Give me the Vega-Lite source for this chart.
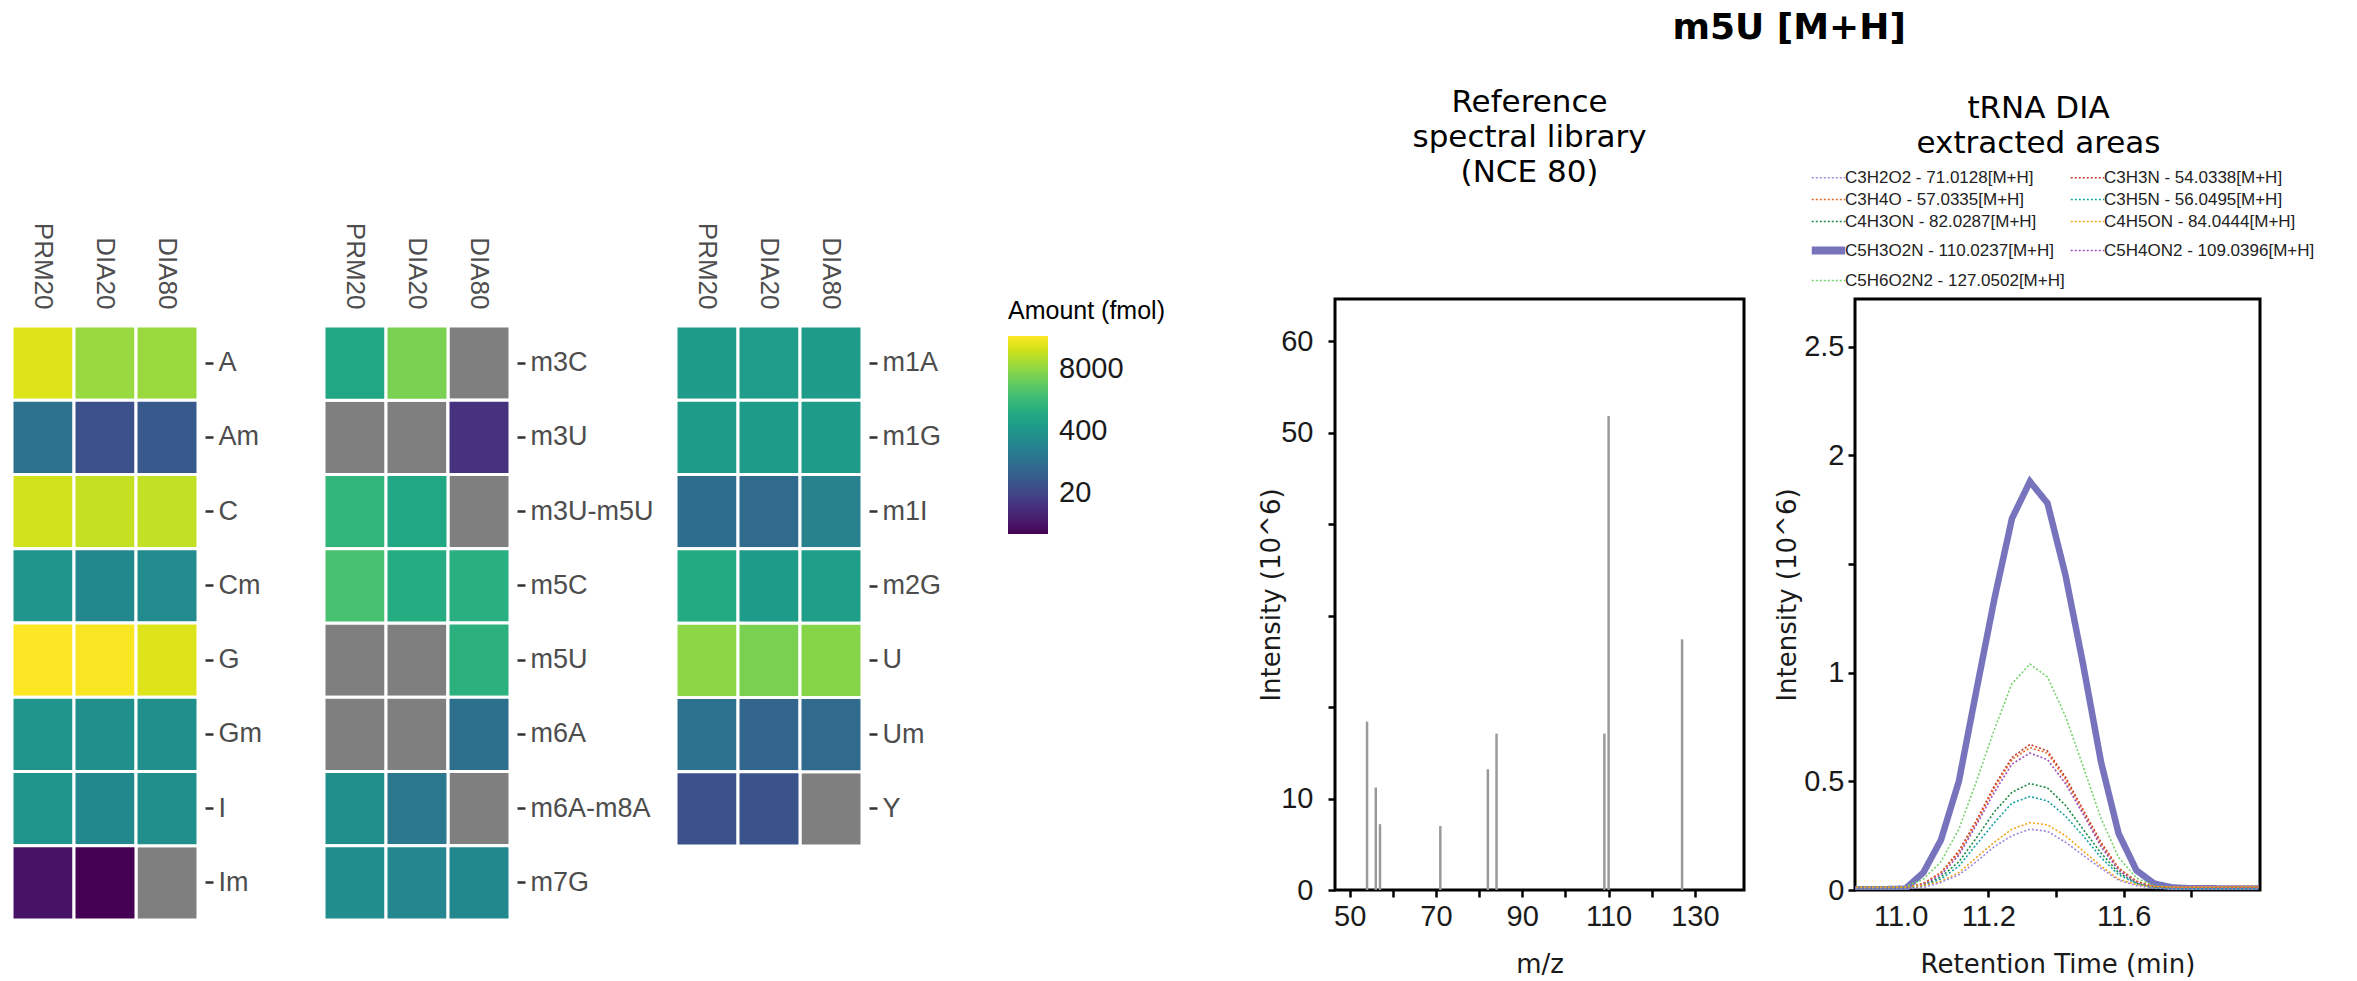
{
  "background": "white",
  "padding": {"left": 10, "top": 9, "right": 4, "bottom": 0},
  "config": {
    "view": {"stroke": null},
    "axis": {"labelFont": "Liberation Sans", "titleFont": "DejaVu Sans", "grid": false}
  },
  "title": {"text": "m5U [M+H]", "font": "DejaVu Sans", "fontSize": 36, "fontWeight": "bold", "color": "black", "anchor": "start", "dx": 1662, "offset": 39},
  "datasets": {
    "heat": [
      {"panel": 1, "mod": "A", "method": "PRM20", "amt": 24650},
      {"panel": 1, "mod": "A", "method": "DIA20", "amt": 9000},
      {"panel": 1, "mod": "A", "method": "DIA80", "amt": 9400},
      {"panel": 1, "mod": "Am", "method": "PRM20", "amt": 99},
      {"panel": 1, "mod": "Am", "method": "DIA20", "amt": 28},
      {"panel": 1, "mod": "Am", "method": "DIA80", "amt": 38},
      {"panel": 1, "mod": "C", "method": "PRM20", "amt": 20300},
      {"panel": 1, "mod": "C", "method": "DIA20", "amt": 16700},
      {"panel": 1, "mod": "C", "method": "DIA80", "amt": 16500},
      {"panel": 1, "mod": "Cm", "method": "PRM20", "amt": 384},
      {"panel": 1, "mod": "Cm", "method": "DIA20", "amt": 237},
      {"panel": 1, "mod": "Cm", "method": "DIA80", "amt": 261},
      {"panel": 1, "mod": "G", "method": "PRM20", "amt": 39400},
      {"panel": 1, "mod": "G", "method": "DIA20", "amt": 36300},
      {"panel": 1, "mod": "G", "method": "DIA80", "amt": 24650},
      {"panel": 1, "mod": "Gm", "method": "PRM20", "amt": 384},
      {"panel": 1, "mod": "Gm", "method": "DIA20", "amt": 316},
      {"panel": 1, "mod": "Gm", "method": "DIA80", "amt": 316},
      {"panel": 1, "mod": "I", "method": "PRM20", "amt": 384},
      {"panel": 1, "mod": "I", "method": "DIA20", "amt": 237},
      {"panel": 1, "mod": "I", "method": "DIA80", "amt": 316},
      {"panel": 1, "mod": "Im", "method": "PRM20", "amt": 4.3},
      {"panel": 1, "mod": "Im", "method": "DIA20", "amt": 2.7},
      {"panel": 1, "mod": "Im", "method": "DIA80", "amt": null},
      {"panel": 2, "mod": "m3C", "method": "PRM20", "amt": 832},
      {"panel": 2, "mod": "m3C", "method": "DIA20", "amt": 5770},
      {"panel": 2, "mod": "m3C", "method": "DIA80", "amt": null},
      {"panel": 2, "mod": "m3U", "method": "PRM20", "amt": null},
      {"panel": 2, "mod": "m3U", "method": "DIA20", "amt": null},
      {"panel": 2, "mod": "m3U", "method": "DIA80", "amt": 10.7},
      {"panel": 2, "mod": "m3U-m5U", "method": "PRM20", "amt": 1489},
      {"panel": 2, "mod": "m3U-m5U", "method": "DIA20", "amt": 832},
      {"panel": 2, "mod": "m3U-m5U", "method": "DIA80", "amt": null},
      {"panel": 2, "mod": "m5C", "method": "PRM20", "amt": 2415},
      {"panel": 2, "mod": "m5C", "method": "DIA20", "amt": 1009},
      {"panel": 2, "mod": "m5C", "method": "DIA80", "amt": 1113},
      {"panel": 2, "mod": "m5U", "method": "PRM20", "amt": null},
      {"panel": 2, "mod": "m5U", "method": "DIA20", "amt": null},
      {"panel": 2, "mod": "m5U", "method": "DIA80", "amt": 1227},
      {"panel": 2, "mod": "m6A", "method": "PRM20", "amt": null},
      {"panel": 2, "mod": "m6A", "method": "DIA20", "amt": null},
      {"panel": 2, "mod": "m6A", "method": "DIA80", "amt": 90},
      {"panel": 2, "mod": "m6A-m8A", "method": "PRM20", "amt": 316},
      {"panel": 2, "mod": "m6A-m8A", "method": "DIA20", "amt": 120},
      {"panel": 2, "mod": "m6A-m8A", "method": "DIA80", "amt": null},
      {"panel": 2, "mod": "m7G", "method": "PRM20", "amt": 287},
      {"panel": 2, "mod": "m7G", "method": "DIA20", "amt": 215},
      {"panel": 2, "mod": "m7G", "method": "DIA80", "amt": 237},
      {"panel": 3, "mod": "m1A", "method": "PRM20", "amt": 500},
      {"panel": 3, "mod": "m1A", "method": "DIA20", "amt": 520},
      {"panel": 3, "mod": "m1A", "method": "DIA80", "amt": 510},
      {"panel": 3, "mod": "m1G", "method": "PRM20", "amt": 510},
      {"panel": 3, "mod": "m1G", "method": "DIA20", "amt": 515},
      {"panel": 3, "mod": "m1G", "method": "DIA80", "amt": 505},
      {"panel": 3, "mod": "m1I", "method": "PRM20", "amt": 81},
      {"panel": 3, "mod": "m1I", "method": "DIA20", "amt": 74},
      {"panel": 3, "mod": "m1I", "method": "DIA80", "amt": 177},
      {"panel": 3, "mod": "m2G", "method": "PRM20", "amt": 916},
      {"panel": 3, "mod": "m2G", "method": "DIA20", "amt": 513},
      {"panel": 3, "mod": "m2G", "method": "DIA80", "amt": 565},
      {"panel": 3, "mod": "U", "method": "PRM20", "amt": 7710},
      {"panel": 3, "mod": "U", "method": "DIA20", "amt": 5770},
      {"panel": 3, "mod": "U", "method": "DIA80", "amt": 7000},
      {"panel": 3, "mod": "Um", "method": "PRM20", "amt": 99},
      {"panel": 3, "mod": "Um", "method": "DIA20", "amt": 61},
      {"panel": 3, "mod": "Um", "method": "DIA80", "amt": 74},
      {"panel": 3, "mod": "Y", "method": "PRM20", "amt": 28},
      {"panel": 3, "mod": "Y", "method": "DIA20", "amt": 31},
      {"panel": 3, "mod": "Y", "method": "DIA80", "amt": null}
    ],
    "spec": [
      {"mz": 54.03, "intensity": 18.4},
      {"mz": 56.05, "intensity": 11.2},
      {"mz": 57.03, "intensity": 7.2},
      {"mz": 71.01, "intensity": 7.0},
      {"mz": 82.03, "intensity": 13.2},
      {"mz": 84.04, "intensity": 17.1},
      {"mz": 109.04, "intensity": 17.1},
      {"mz": 110.02, "intensity": 51.8},
      {"mz": 127.05, "intensity": 27.4}
    ],
    "dia": [
      {"ion": "C5H3O2N - 110.0237[M+H]", "t": 10.798, "v": 0.003},
      {"ion": "C5H3O2N - 110.0237[M+H]", "t": 10.850, "v": 0.003},
      {"ion": "C5H3O2N - 110.0237[M+H]", "t": 10.903, "v": 0.004},
      {"ion": "C5H3O2N - 110.0237[M+H]", "t": 10.955, "v": 0.006},
      {"ion": "C5H3O2N - 110.0237[M+H]", "t": 11.008, "v": 0.08},
      {"ion": "C5H3O2N - 110.0237[M+H]", "t": 11.060, "v": 0.23},
      {"ion": "C5H3O2N - 110.0237[M+H]", "t": 11.113, "v": 0.50},
      {"ion": "C5H3O2N - 110.0237[M+H]", "t": 11.165, "v": 0.92},
      {"ion": "C5H3O2N - 110.0237[M+H]", "t": 11.218, "v": 1.34},
      {"ion": "C5H3O2N - 110.0237[M+H]", "t": 11.270, "v": 1.71},
      {"ion": "C5H3O2N - 110.0237[M+H]", "t": 11.323, "v": 1.88},
      {"ion": "C5H3O2N - 110.0237[M+H]", "t": 11.375, "v": 1.78},
      {"ion": "C5H3O2N - 110.0237[M+H]", "t": 11.428, "v": 1.45},
      {"ion": "C5H3O2N - 110.0237[M+H]", "t": 11.480, "v": 1.04},
      {"ion": "C5H3O2N - 110.0237[M+H]", "t": 11.533, "v": 0.59},
      {"ion": "C5H3O2N - 110.0237[M+H]", "t": 11.585, "v": 0.26},
      {"ion": "C5H3O2N - 110.0237[M+H]", "t": 11.638, "v": 0.09},
      {"ion": "C5H3O2N - 110.0237[M+H]", "t": 11.690, "v": 0.03},
      {"ion": "C5H3O2N - 110.0237[M+H]", "t": 11.743, "v": 0.012},
      {"ion": "C5H3O2N - 110.0237[M+H]", "t": 11.795, "v": 0.008},
      {"ion": "C5H3O2N - 110.0237[M+H]", "t": 11.848, "v": 0.008},
      {"ion": "C5H3O2N - 110.0237[M+H]", "t": 11.900, "v": 0.007},
      {"ion": "C5H3O2N - 110.0237[M+H]", "t": 11.953, "v": 0.007},
      {"ion": "C5H3O2N - 110.0237[M+H]", "t": 11.998, "v": 0.007},
      {"ion": "C5H6O2N2 - 127.0502[M+H]", "t": 10.798, "v": 0.012},
      {"ion": "C5H6O2N2 - 127.0502[M+H]", "t": 10.850, "v": 0.012},
      {"ion": "C5H6O2N2 - 127.0502[M+H]", "t": 10.903, "v": 0.012},
      {"ion": "C5H6O2N2 - 127.0502[M+H]", "t": 10.955, "v": 0.015},
      {"ion": "C5H6O2N2 - 127.0502[M+H]", "t": 11.008, "v": 0.05},
      {"ion": "C5H6O2N2 - 127.0502[M+H]", "t": 11.060, "v": 0.13},
      {"ion": "C5H6O2N2 - 127.0502[M+H]", "t": 11.113, "v": 0.28},
      {"ion": "C5H6O2N2 - 127.0502[M+H]", "t": 11.165, "v": 0.50},
      {"ion": "C5H6O2N2 - 127.0502[M+H]", "t": 11.218, "v": 0.74},
      {"ion": "C5H6O2N2 - 127.0502[M+H]", "t": 11.270, "v": 0.95},
      {"ion": "C5H6O2N2 - 127.0502[M+H]", "t": 11.323, "v": 1.04},
      {"ion": "C5H6O2N2 - 127.0502[M+H]", "t": 11.375, "v": 0.98},
      {"ion": "C5H6O2N2 - 127.0502[M+H]", "t": 11.428, "v": 0.80},
      {"ion": "C5H6O2N2 - 127.0502[M+H]", "t": 11.480, "v": 0.57},
      {"ion": "C5H6O2N2 - 127.0502[M+H]", "t": 11.533, "v": 0.33},
      {"ion": "C5H6O2N2 - 127.0502[M+H]", "t": 11.585, "v": 0.15},
      {"ion": "C5H6O2N2 - 127.0502[M+H]", "t": 11.638, "v": 0.055},
      {"ion": "C5H6O2N2 - 127.0502[M+H]", "t": 11.690, "v": 0.02},
      {"ion": "C5H6O2N2 - 127.0502[M+H]", "t": 11.743, "v": 0.012},
      {"ion": "C5H6O2N2 - 127.0502[M+H]", "t": 11.795, "v": 0.01},
      {"ion": "C5H6O2N2 - 127.0502[M+H]", "t": 11.848, "v": 0.01},
      {"ion": "C5H6O2N2 - 127.0502[M+H]", "t": 11.900, "v": 0.01},
      {"ion": "C5H6O2N2 - 127.0502[M+H]", "t": 11.953, "v": 0.01},
      {"ion": "C5H6O2N2 - 127.0502[M+H]", "t": 11.998, "v": 0.01},
      {"ion": "C3H3N - 54.0338[M+H]", "t": 10.798, "v": 0.006},
      {"ion": "C3H3N - 54.0338[M+H]", "t": 10.850, "v": 0.006},
      {"ion": "C3H3N - 54.0338[M+H]", "t": 10.903, "v": 0.006},
      {"ion": "C3H3N - 54.0338[M+H]", "t": 10.955, "v": 0.008},
      {"ion": "C3H3N - 54.0338[M+H]", "t": 11.008, "v": 0.03},
      {"ion": "C3H3N - 54.0338[M+H]", "t": 11.060, "v": 0.08},
      {"ion": "C3H3N - 54.0338[M+H]", "t": 11.113, "v": 0.18},
      {"ion": "C3H3N - 54.0338[M+H]", "t": 11.165, "v": 0.32},
      {"ion": "C3H3N - 54.0338[M+H]", "t": 11.218, "v": 0.48},
      {"ion": "C3H3N - 54.0338[M+H]", "t": 11.270, "v": 0.61},
      {"ion": "C3H3N - 54.0338[M+H]", "t": 11.323, "v": 0.67},
      {"ion": "C3H3N - 54.0338[M+H]", "t": 11.375, "v": 0.64},
      {"ion": "C3H3N - 54.0338[M+H]", "t": 11.428, "v": 0.52},
      {"ion": "C3H3N - 54.0338[M+H]", "t": 11.480, "v": 0.37},
      {"ion": "C3H3N - 54.0338[M+H]", "t": 11.533, "v": 0.22},
      {"ion": "C3H3N - 54.0338[M+H]", "t": 11.585, "v": 0.10},
      {"ion": "C3H3N - 54.0338[M+H]", "t": 11.638, "v": 0.04},
      {"ion": "C3H3N - 54.0338[M+H]", "t": 11.690, "v": 0.015},
      {"ion": "C3H3N - 54.0338[M+H]", "t": 11.743, "v": 0.009},
      {"ion": "C3H3N - 54.0338[M+H]", "t": 11.795, "v": 0.008},
      {"ion": "C3H3N - 54.0338[M+H]", "t": 11.848, "v": 0.008},
      {"ion": "C3H3N - 54.0338[M+H]", "t": 11.900, "v": 0.008},
      {"ion": "C3H3N - 54.0338[M+H]", "t": 11.953, "v": 0.008},
      {"ion": "C3H3N - 54.0338[M+H]", "t": 11.998, "v": 0.008},
      {"ion": "C3H4O - 57.0335[M+H]", "t": 10.798, "v": 0.008},
      {"ion": "C3H4O - 57.0335[M+H]", "t": 10.850, "v": 0.008},
      {"ion": "C3H4O - 57.0335[M+H]", "t": 10.903, "v": 0.008},
      {"ion": "C3H4O - 57.0335[M+H]", "t": 10.955, "v": 0.01},
      {"ion": "C3H4O - 57.0335[M+H]", "t": 11.008, "v": 0.03},
      {"ion": "C3H4O - 57.0335[M+H]", "t": 11.060, "v": 0.08},
      {"ion": "C3H4O - 57.0335[M+H]", "t": 11.113, "v": 0.17},
      {"ion": "C3H4O - 57.0335[M+H]", "t": 11.165, "v": 0.31},
      {"ion": "C3H4O - 57.0335[M+H]", "t": 11.218, "v": 0.47},
      {"ion": "C3H4O - 57.0335[M+H]", "t": 11.270, "v": 0.60},
      {"ion": "C3H4O - 57.0335[M+H]", "t": 11.323, "v": 0.655},
      {"ion": "C3H4O - 57.0335[M+H]", "t": 11.375, "v": 0.63},
      {"ion": "C3H4O - 57.0335[M+H]", "t": 11.428, "v": 0.51},
      {"ion": "C3H4O - 57.0335[M+H]", "t": 11.480, "v": 0.36},
      {"ion": "C3H4O - 57.0335[M+H]", "t": 11.533, "v": 0.21},
      {"ion": "C3H4O - 57.0335[M+H]", "t": 11.585, "v": 0.10},
      {"ion": "C3H4O - 57.0335[M+H]", "t": 11.638, "v": 0.04},
      {"ion": "C3H4O - 57.0335[M+H]", "t": 11.690, "v": 0.016},
      {"ion": "C3H4O - 57.0335[M+H]", "t": 11.743, "v": 0.012},
      {"ion": "C3H4O - 57.0335[M+H]", "t": 11.795, "v": 0.012},
      {"ion": "C3H4O - 57.0335[M+H]", "t": 11.848, "v": 0.012},
      {"ion": "C3H4O - 57.0335[M+H]", "t": 11.900, "v": 0.012},
      {"ion": "C3H4O - 57.0335[M+H]", "t": 11.953, "v": 0.012},
      {"ion": "C3H4O - 57.0335[M+H]", "t": 11.998, "v": 0.012},
      {"ion": "C5H4ON2 - 109.0396[M+H]", "t": 10.798, "v": 0.004},
      {"ion": "C5H4ON2 - 109.0396[M+H]", "t": 10.850, "v": 0.004},
      {"ion": "C5H4ON2 - 109.0396[M+H]", "t": 10.903, "v": 0.004},
      {"ion": "C5H4ON2 - 109.0396[M+H]", "t": 10.955, "v": 0.006},
      {"ion": "C5H4ON2 - 109.0396[M+H]", "t": 11.008, "v": 0.025},
      {"ion": "C5H4ON2 - 109.0396[M+H]", "t": 11.060, "v": 0.07},
      {"ion": "C5H4ON2 - 109.0396[M+H]", "t": 11.113, "v": 0.16},
      {"ion": "C5H4ON2 - 109.0396[M+H]", "t": 11.165, "v": 0.30},
      {"ion": "C5H4ON2 - 109.0396[M+H]", "t": 11.218, "v": 0.45},
      {"ion": "C5H4ON2 - 109.0396[M+H]", "t": 11.270, "v": 0.58},
      {"ion": "C5H4ON2 - 109.0396[M+H]", "t": 11.323, "v": 0.63},
      {"ion": "C5H4ON2 - 109.0396[M+H]", "t": 11.375, "v": 0.60},
      {"ion": "C5H4ON2 - 109.0396[M+H]", "t": 11.428, "v": 0.49},
      {"ion": "C5H4ON2 - 109.0396[M+H]", "t": 11.480, "v": 0.35},
      {"ion": "C5H4ON2 - 109.0396[M+H]", "t": 11.533, "v": 0.20},
      {"ion": "C5H4ON2 - 109.0396[M+H]", "t": 11.585, "v": 0.09},
      {"ion": "C5H4ON2 - 109.0396[M+H]", "t": 11.638, "v": 0.035},
      {"ion": "C5H4ON2 - 109.0396[M+H]", "t": 11.690, "v": 0.012},
      {"ion": "C5H4ON2 - 109.0396[M+H]", "t": 11.743, "v": 0.006},
      {"ion": "C5H4ON2 - 109.0396[M+H]", "t": 11.795, "v": 0.005},
      {"ion": "C5H4ON2 - 109.0396[M+H]", "t": 11.848, "v": 0.005},
      {"ion": "C5H4ON2 - 109.0396[M+H]", "t": 11.900, "v": 0.005},
      {"ion": "C5H4ON2 - 109.0396[M+H]", "t": 11.953, "v": 0.005},
      {"ion": "C5H4ON2 - 109.0396[M+H]", "t": 11.998, "v": 0.005},
      {"ion": "C4H3ON - 82.0287[M+H]", "t": 10.798, "v": 0.005},
      {"ion": "C4H3ON - 82.0287[M+H]", "t": 10.850, "v": 0.005},
      {"ion": "C4H3ON - 82.0287[M+H]", "t": 10.903, "v": 0.005},
      {"ion": "C4H3ON - 82.0287[M+H]", "t": 10.955, "v": 0.007},
      {"ion": "C4H3ON - 82.0287[M+H]", "t": 11.008, "v": 0.02},
      {"ion": "C4H3ON - 82.0287[M+H]", "t": 11.060, "v": 0.06},
      {"ion": "C4H3ON - 82.0287[M+H]", "t": 11.113, "v": 0.13},
      {"ion": "C4H3ON - 82.0287[M+H]", "t": 11.165, "v": 0.24},
      {"ion": "C4H3ON - 82.0287[M+H]", "t": 11.218, "v": 0.36},
      {"ion": "C4H3ON - 82.0287[M+H]", "t": 11.270, "v": 0.45},
      {"ion": "C4H3ON - 82.0287[M+H]", "t": 11.323, "v": 0.49},
      {"ion": "C4H3ON - 82.0287[M+H]", "t": 11.375, "v": 0.47},
      {"ion": "C4H3ON - 82.0287[M+H]", "t": 11.428, "v": 0.39},
      {"ion": "C4H3ON - 82.0287[M+H]", "t": 11.480, "v": 0.28},
      {"ion": "C4H3ON - 82.0287[M+H]", "t": 11.533, "v": 0.17},
      {"ion": "C4H3ON - 82.0287[M+H]", "t": 11.585, "v": 0.08},
      {"ion": "C4H3ON - 82.0287[M+H]", "t": 11.638, "v": 0.03},
      {"ion": "C4H3ON - 82.0287[M+H]", "t": 11.690, "v": 0.01},
      {"ion": "C4H3ON - 82.0287[M+H]", "t": 11.743, "v": 0.006},
      {"ion": "C4H3ON - 82.0287[M+H]", "t": 11.795, "v": 0.005},
      {"ion": "C4H3ON - 82.0287[M+H]", "t": 11.848, "v": 0.005},
      {"ion": "C4H3ON - 82.0287[M+H]", "t": 11.900, "v": 0.005},
      {"ion": "C4H3ON - 82.0287[M+H]", "t": 11.953, "v": 0.005},
      {"ion": "C4H3ON - 82.0287[M+H]", "t": 11.998, "v": 0.005},
      {"ion": "C3H5N - 56.0495[M+H]", "t": 10.798, "v": 0.005},
      {"ion": "C3H5N - 56.0495[M+H]", "t": 10.850, "v": 0.005},
      {"ion": "C3H5N - 56.0495[M+H]", "t": 10.903, "v": 0.005},
      {"ion": "C3H5N - 56.0495[M+H]", "t": 10.955, "v": 0.006},
      {"ion": "C3H5N - 56.0495[M+H]", "t": 11.008, "v": 0.02},
      {"ion": "C3H5N - 56.0495[M+H]", "t": 11.060, "v": 0.05},
      {"ion": "C3H5N - 56.0495[M+H]", "t": 11.113, "v": 0.11},
      {"ion": "C3H5N - 56.0495[M+H]", "t": 11.165, "v": 0.21},
      {"ion": "C3H5N - 56.0495[M+H]", "t": 11.218, "v": 0.31},
      {"ion": "C3H5N - 56.0495[M+H]", "t": 11.270, "v": 0.40},
      {"ion": "C3H5N - 56.0495[M+H]", "t": 11.323, "v": 0.43},
      {"ion": "C3H5N - 56.0495[M+H]", "t": 11.375, "v": 0.41},
      {"ion": "C3H5N - 56.0495[M+H]", "t": 11.428, "v": 0.34},
      {"ion": "C3H5N - 56.0495[M+H]", "t": 11.480, "v": 0.25},
      {"ion": "C3H5N - 56.0495[M+H]", "t": 11.533, "v": 0.15},
      {"ion": "C3H5N - 56.0495[M+H]", "t": 11.585, "v": 0.07},
      {"ion": "C3H5N - 56.0495[M+H]", "t": 11.638, "v": 0.03},
      {"ion": "C3H5N - 56.0495[M+H]", "t": 11.690, "v": 0.01},
      {"ion": "C3H5N - 56.0495[M+H]", "t": 11.743, "v": 0.006},
      {"ion": "C3H5N - 56.0495[M+H]", "t": 11.795, "v": 0.005},
      {"ion": "C3H5N - 56.0495[M+H]", "t": 11.848, "v": 0.005},
      {"ion": "C3H5N - 56.0495[M+H]", "t": 11.900, "v": 0.005},
      {"ion": "C3H5N - 56.0495[M+H]", "t": 11.953, "v": 0.005},
      {"ion": "C3H5N - 56.0495[M+H]", "t": 11.998, "v": 0.005},
      {"ion": "C4H5ON - 84.0444[M+H]", "t": 10.798, "v": 0.012},
      {"ion": "C4H5ON - 84.0444[M+H]", "t": 10.850, "v": 0.012},
      {"ion": "C4H5ON - 84.0444[M+H]", "t": 10.903, "v": 0.012},
      {"ion": "C4H5ON - 84.0444[M+H]", "t": 10.955, "v": 0.013},
      {"ion": "C4H5ON - 84.0444[M+H]", "t": 11.008, "v": 0.02},
      {"ion": "C4H5ON - 84.0444[M+H]", "t": 11.060, "v": 0.04},
      {"ion": "C4H5ON - 84.0444[M+H]", "t": 11.113, "v": 0.08},
      {"ion": "C4H5ON - 84.0444[M+H]", "t": 11.165, "v": 0.15},
      {"ion": "C4H5ON - 84.0444[M+H]", "t": 11.218, "v": 0.22},
      {"ion": "C4H5ON - 84.0444[M+H]", "t": 11.270, "v": 0.28},
      {"ion": "C4H5ON - 84.0444[M+H]", "t": 11.323, "v": 0.31},
      {"ion": "C4H5ON - 84.0444[M+H]", "t": 11.375, "v": 0.30},
      {"ion": "C4H5ON - 84.0444[M+H]", "t": 11.428, "v": 0.25},
      {"ion": "C4H5ON - 84.0444[M+H]", "t": 11.480, "v": 0.18},
      {"ion": "C4H5ON - 84.0444[M+H]", "t": 11.533, "v": 0.11},
      {"ion": "C4H5ON - 84.0444[M+H]", "t": 11.585, "v": 0.05},
      {"ion": "C4H5ON - 84.0444[M+H]", "t": 11.638, "v": 0.025},
      {"ion": "C4H5ON - 84.0444[M+H]", "t": 11.690, "v": 0.015},
      {"ion": "C4H5ON - 84.0444[M+H]", "t": 11.743, "v": 0.014},
      {"ion": "C4H5ON - 84.0444[M+H]", "t": 11.795, "v": 0.014},
      {"ion": "C4H5ON - 84.0444[M+H]", "t": 11.848, "v": 0.015},
      {"ion": "C4H5ON - 84.0444[M+H]", "t": 11.900, "v": 0.015},
      {"ion": "C4H5ON - 84.0444[M+H]", "t": 11.953, "v": 0.016},
      {"ion": "C4H5ON - 84.0444[M+H]", "t": 11.998, "v": 0.016},
      {"ion": "C3H2O2 - 71.0128[M+H]", "t": 10.798, "v": 0.003},
      {"ion": "C3H2O2 - 71.0128[M+H]", "t": 10.850, "v": 0.003},
      {"ion": "C3H2O2 - 71.0128[M+H]", "t": 10.903, "v": 0.003},
      {"ion": "C3H2O2 - 71.0128[M+H]", "t": 10.955, "v": 0.005},
      {"ion": "C3H2O2 - 71.0128[M+H]", "t": 11.008, "v": 0.012},
      {"ion": "C3H2O2 - 71.0128[M+H]", "t": 11.060, "v": 0.035},
      {"ion": "C3H2O2 - 71.0128[M+H]", "t": 11.113, "v": 0.07},
      {"ion": "C3H2O2 - 71.0128[M+H]", "t": 11.165, "v": 0.13},
      {"ion": "C3H2O2 - 71.0128[M+H]", "t": 11.218, "v": 0.20},
      {"ion": "C3H2O2 - 71.0128[M+H]", "t": 11.270, "v": 0.25},
      {"ion": "C3H2O2 - 71.0128[M+H]", "t": 11.323, "v": 0.28},
      {"ion": "C3H2O2 - 71.0128[M+H]", "t": 11.375, "v": 0.27},
      {"ion": "C3H2O2 - 71.0128[M+H]", "t": 11.428, "v": 0.22},
      {"ion": "C3H2O2 - 71.0128[M+H]", "t": 11.480, "v": 0.16},
      {"ion": "C3H2O2 - 71.0128[M+H]", "t": 11.533, "v": 0.10},
      {"ion": "C3H2O2 - 71.0128[M+H]", "t": 11.585, "v": 0.045},
      {"ion": "C3H2O2 - 71.0128[M+H]", "t": 11.638, "v": 0.02},
      {"ion": "C3H2O2 - 71.0128[M+H]", "t": 11.690, "v": 0.008},
      {"ion": "C3H2O2 - 71.0128[M+H]", "t": 11.743, "v": 0.004},
      {"ion": "C3H2O2 - 71.0128[M+H]", "t": 11.795, "v": 0.004},
      {"ion": "C3H2O2 - 71.0128[M+H]", "t": 11.848, "v": 0.004},
      {"ion": "C3H2O2 - 71.0128[M+H]", "t": 11.900, "v": 0.004},
      {"ion": "C3H2O2 - 71.0128[M+H]", "t": 11.953, "v": 0.004},
      {"ion": "C3H2O2 - 71.0128[M+H]", "t": 11.998, "v": 0.004}
    ]
  },
  "spacing": 20,
  "resolve": {"scale": {"color": "independent", "strokeDash": "independent"}, "legend": {"color": "independent", "strokeDash": "independent"}},
  "hconcat": [
    {
      "width": 186, "height": 621,
      "data": {"name": "heat"},
      "transform": [{"filter": "datum.panel == 1"}],
      "encoding": {
        "x": {"field": "method", "type": "nominal", "sort": ["PRM20", "DIA20", "DIA80"], "scale": {"paddingInner": 0, "paddingOuter": 0},
          "axis": {"orient": "top", "title": null, "offset": -27, "labelAngle": 90, "labelAlign": "right", "labelBaseline": "middle", "ticks": false, "domain": false, "labelPadding": 17, "labelFontSize": 26, "labelColor": "#4d4d4d"}},
        "y": {"field": "mod", "type": "nominal", "sort": ["A", "Am", "C", "Cm", "G", "Gm", "I", "Im"], "scale": {"paddingInner": 0, "paddingOuter": 0.1818, "align": 1},
          "axis": {"orient": "right", "title": null, "domain": false, "offset": 7, "tickSize": 8, "tickWidth": 2.5, "tickColor": "#333333", "labelPadding": 5, "minExtent": 97, "labelFontSize": 27, "labelColor": "#4d4d4d"}}
      },
      "layer": [
        {"mark": {"type": "rect", "fill": "#7f7f7f", "stroke": "white", "strokeWidth": 3}},
        {"transform": [{"filter": "isValid(datum.amt)"}],
         "mark": {"type": "rect", "stroke": "white", "strokeWidth": 3},
         "encoding": {"color": {"field": "amt", "type": "quantitative", "scale": {"type": "log", "scheme": "viridis", "domain": [2.7, 39400], "nice": false}, "legend": null}}}
      ]
    },
    {
      "width": 186, "height": 621,
      "data": {"name": "heat"},
      "transform": [{"filter": "datum.panel == 2"}],
      "encoding": {
        "x": {"field": "method", "type": "nominal", "sort": ["PRM20", "DIA20", "DIA80"], "scale": {"paddingInner": 0, "paddingOuter": 0},
          "axis": {"orient": "top", "title": null, "offset": -27, "labelAngle": 90, "labelAlign": "right", "labelBaseline": "middle", "ticks": false, "domain": false, "labelPadding": 17, "labelFontSize": 26, "labelColor": "#4d4d4d"}},
        "y": {"field": "mod", "type": "nominal", "sort": ["m3C", "m3U", "m3U-m5U", "m5C", "m5U", "m6A", "m6A-m8A", "m7G"], "scale": {"paddingInner": 0, "paddingOuter": 0.1818, "align": 1},
          "axis": {"orient": "right", "title": null, "domain": false, "offset": 7, "tickSize": 8, "tickWidth": 2.5, "tickColor": "#333333", "labelPadding": 5, "minExtent": 137, "labelFontSize": 27, "labelColor": "#4d4d4d"}}
      },
      "layer": [
        {"mark": {"type": "rect", "fill": "#7f7f7f", "stroke": "white", "strokeWidth": 3}},
        {"transform": [{"filter": "isValid(datum.amt)"}],
         "mark": {"type": "rect", "stroke": "white", "strokeWidth": 3},
         "encoding": {"color": {"field": "amt", "type": "quantitative", "scale": {"type": "log", "scheme": "viridis", "domain": [2.7, 39400], "nice": false}, "legend": null}}}
      ]
    },
    {
      "width": 186, "height": 547,
      "data": {"name": "heat"},
      "transform": [{"filter": "datum.panel == 3"}],
      "encoding": {
        "x": {"field": "method", "type": "nominal", "sort": ["PRM20", "DIA20", "DIA80"], "scale": {"paddingInner": 0, "paddingOuter": 0},
          "axis": {"orient": "top", "title": null, "offset": -27, "labelAngle": 90, "labelAlign": "right", "labelBaseline": "middle", "ticks": false, "domain": false, "labelPadding": 17, "labelFontSize": 26, "labelColor": "#4d4d4d"}},
        "y": {"field": "mod", "type": "nominal", "sort": ["m1A", "m1G", "m1I", "m2G", "U", "Um", "Y"], "scale": {"paddingInner": 0, "paddingOuter": 0.1818, "align": 1},
          "axis": {"orient": "right", "title": null, "domain": false, "offset": 7, "tickSize": 8, "tickWidth": 2.5, "tickColor": "#333333", "labelPadding": 5, "labelFontSize": 27, "labelColor": "#4d4d4d"}}
      },
      "layer": [
        {"mark": {"type": "rect", "fill": "#7f7f7f", "stroke": "white", "strokeWidth": 3}},
        {"transform": [{"filter": "isValid(datum.amt)"}],
         "mark": {"type": "rect", "stroke": "white", "strokeWidth": 3},
         "encoding": {"color": {"field": "amt", "type": "quantitative", "scale": {"type": "log", "scheme": "viridis", "domain": [2.7, 39400], "nice": false},
           "legend": {"orient": "none", "legendX": 332, "legendY": 0, "direction": "vertical", "title": "Amount (fmol)", "values": [20, 400, 8000], "format": "d", "gradientLength": 198, "gradientThickness": 40, "gradientStrokeWidth": 0, "titleFont": "Liberation Sans", "titleFontSize": 25, "titleFontWeight": "normal", "titleColor": "black", "titlePadding": 12, "labelFont": "Liberation Sans", "labelFontSize": 29, "labelColor": "#1a1a1a", "labelOffset": 11}}}}
      ]
    },
    {
      "width": 409, "height": 591,
      "view": {"stroke": "black", "strokeWidth": 3},
      "title": {"text": ["Reference", "spectral library", "(NCE 80)"], "font": "DejaVu Sans", "fontSize": 31, "fontWeight": "normal", "color": "black", "lineHeight": 35, "offset": 110, "anchor": "middle", "frame": "group", "dx": -10},
      "data": {"name": "spec"},
      "mark": {"type": "rule", "color": "#9a9a9a", "strokeWidth": 2.5},
      "encoding": {
        "x": {"field": "mz", "type": "quantitative", "scale": {"domain": [46.6, 141.4], "nice": false, "zero": false},
          "axis": {"title": "m/z", "values": [50, 60, 70, 80, 90, 100, 110, 120, 130], "labelExpr": "datum.value % 20 == 10 ? datum.label : ''", "domain": false, "tickSize": 7, "tickWidth": 2.5, "tickColor": "black", "labelFontSize": 29, "labelColor": "#1a1a1a", "labelPadding": 5, "titleFontSize": 26, "titleFontWeight": "normal", "titleColor": "#1a1a1a", "titlePadding": 20}},
        "y": {"field": "intensity", "type": "quantitative", "scale": {"domain": [0, 64.6], "nice": false},
          "axis": {"title": "Intensity (10^6)", "values": [0, 10, 20, 30, 40, 50, 60], "labelExpr": "(datum.value == 20 || datum.value == 30 || datum.value == 40) ? '' : datum.label", "domain": false, "tickSize": 7, "tickWidth": 2.5, "tickColor": "black", "labelFontSize": 29, "labelColor": "#1a1a1a", "labelPadding": 15, "titleFontSize": 26, "titleFontWeight": "normal", "titleColor": "#1a1a1a", "titleBaseline": "middle", "titleX": -64, "minExtent": 148}},
        "y2": {"datum": 0}
      }
    },
    {
      "width": 405, "height": 591,
      "view": {"stroke": "black", "strokeWidth": 3},
      "title": {"text": ["tRNA DIA", "extracted areas"], "font": "DejaVu Sans", "fontSize": 31, "fontWeight": "normal", "color": "black", "lineHeight": 35, "offset": 9, "anchor": "middle", "frame": "group", "dx": -19},
      "data": {"name": "dia"},
      "mark": {"type": "line", "clip": true},
      "encoding": {
        "x": {"field": "t", "type": "quantitative", "scale": {"domain": [10.806, 12.003], "nice": false, "zero": false},
          "axis": {"title": "Retention Time (min)", "values": [11.0, 11.2, 11.4, 11.6, 11.8], "format": ".1f", "labelExpr": "(datum.value == 11.4 || datum.value == 11.8) ? '' : datum.label", "domain": false, "tickSize": 7, "tickWidth": 2.5, "tickColor": "black",
            "tickOpacity": {"condition": {"test": "datum.value == 11", "value": 0}, "value": 1},
            "labelOffset": {"condition": {"test": "datum.value == 11", "value": -20}, "value": 0},
            "labelFontSize": 29, "labelColor": "#1a1a1a", "labelPadding": 5, "titleFontSize": 26, "titleFontWeight": "normal", "titleColor": "#1a1a1a", "titlePadding": 20}},
        "y": {"field": "v", "type": "quantitative", "scale": {"domain": [0, 2.72], "nice": false},
          "axis": {"title": "Intensity (10^6)", "values": [0, 0.5, 1, 1.5, 2, 2.5], "format": "~g", "labelExpr": "datum.value == 1.5 ? '' : datum.label", "domain": false, "tickSize": 7, "tickWidth": 2.5, "tickColor": "black", "labelFontSize": 29, "labelColor": "#1a1a1a", "labelPadding": 4, "titleFontSize": 26, "titleFontWeight": "normal", "titleColor": "#1a1a1a", "titleBaseline": "middle", "titleX": -68, "minExtent": 87}},
        "color": {"field": "ion", "type": "nominal",
          "scale": {"domain": ["C3H2O2 - 71.0128[M+H]", "C3H3N - 54.0338[M+H]", "C3H4O - 57.0335[M+H]", "C3H5N - 56.0495[M+H]", "C4H3ON - 82.0287[M+H]", "C4H5ON - 84.0444[M+H]", "C5H3O2N - 110.0237[M+H]", "C5H4ON2 - 109.0396[M+H]", "C5H6O2N2 - 127.0502[M+H]"],
                    "range": ["#9d86dd", "#c0392b", "#e66a2c", "#1aa3a3", "#1a8a44", "#f4a41c", "#7774bd", "#9b4dbb", "#74d26a"]},
          "legend": {"orient": "none", "legendX": -35, "legendY": -130, "direction": "horizontal", "title": null, "columns": 2, "columnPadding": 2, "rowPadding": 4, "labelFont": "Liberation Sans", "labelFontSize": 17, "labelColor": "#222222", "labelLimit": 400, "labelOffset": 8, "symbolType": "stroke", "symbolSize": 1120, "symbolStrokeWidth": 1.6,
            "encode": {"symbols": {"update": {"strokeWidth": {"signal": "datum.value === 'C5H3O2N - 110.0237[M+H]' ? 8 : 1.6"}}}}}},
        "strokeDash": {"field": "ion", "type": "nominal",
          "scale": {"domain": ["C3H2O2 - 71.0128[M+H]", "C3H3N - 54.0338[M+H]", "C3H4O - 57.0335[M+H]", "C3H5N - 56.0495[M+H]", "C4H3ON - 82.0287[M+H]", "C4H5ON - 84.0444[M+H]", "C5H3O2N - 110.0237[M+H]", "C5H4ON2 - 109.0396[M+H]", "C5H6O2N2 - 127.0502[M+H]"],
                    "range": [[2, 2], [2, 2], [2, 2], [2, 2], [2, 2], [2, 2], [1, 0], [2, 2], [2, 2]]},
          "legend": {"orient": "none", "legendX": -35, "legendY": -130, "direction": "horizontal", "title": null, "columns": 2, "columnPadding": 2, "rowPadding": 4, "labelFont": "Liberation Sans", "labelFontSize": 17, "labelColor": "#222222", "labelLimit": 400, "labelOffset": 8, "symbolType": "stroke", "symbolSize": 1120, "symbolStrokeWidth": 1.6,
            "encode": {"symbols": {"update": {"strokeWidth": {"signal": "datum.value === 'C5H3O2N - 110.0237[M+H]' ? 8 : 1.6"}}}}}},
        "strokeWidth": {"condition": {"test": "datum.ion === 'C5H3O2N - 110.0237[M+H]'", "value": 6.5}, "value": 1.6}
      }
    }
  ]
}
